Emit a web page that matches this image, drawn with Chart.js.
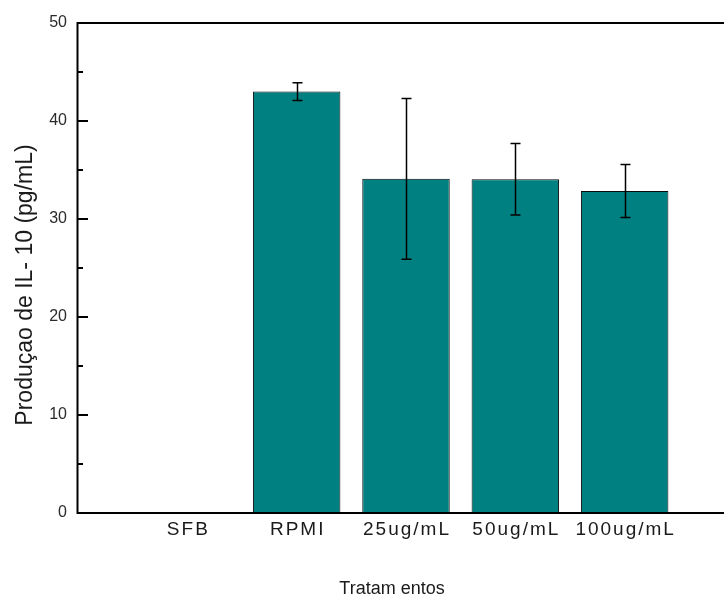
<!DOCTYPE html>
<html>
<head>
<meta charset="utf-8">
<title>Produção de IL-10</title>
<script src="https://cdn.jsdelivr.net/npm/chart.js@4/dist/chart.umd.min.js"></script>
<style>
  html, body { margin: 0; padding: 0; overflow: hidden; background: #ffffff; }
  #wrap { width: 745px; height: 597px; position: relative; }
</style>
</head>
<body>
<div id="wrap"><canvas id="chart"></canvas></div>
<script>
// Treatments along the x axis (blank slots keep the origin and the far edge empty)
const categories = ['', 'SFB', 'RPMI', '25ug/mL', '50ug/mL', '100ug/mL', ''];
// Mean IL-10 production (pg/mL) and its error (±)
const meanValues = [null, 0, 43.0, 34.1, 34.05, 32.85, null];
const errorValues = [null, 0, 0.9, 8.2, 3.65, 2.7, null];
// Y axis ticks
const yMajorTicks = [0, 10, 20, 30, 40, 50];
const yMinorTicks = [5, 15, 25, 35, 45];
// Axis titles
const yTitle = 'Produçao de IL- 10 (pg/mL)';
const xTitle = 'Tratam entos';

const FONT = '"Liberation Sans", Arial, Helvetica, sans-serif';
const INK = '#1a1a1a';

// Frame, inward ticks, category labels and axis titles
const framePlugin = {
  id: 'frame',
  afterDraw(chart) {
    const { ctx, chartArea: { left, top, bottom }, scales: { x, y } } = chart;
    ctx.save();
    ctx.strokeStyle = '#000';
    ctx.lineWidth = 2;
    ctx.lineCap = 'butt';
    // left axis, bottom axis, top border
    ctx.beginPath();
    ctx.moveTo(left - 0.5, top - 1);
    ctx.lineTo(left - 0.5, bottom + 1);
    ctx.moveTo(left - 1.5, bottom);
    ctx.lineTo(chart.width, bottom);
    ctx.moveTo(left - 1.5, top);
    ctx.lineTo(chart.width, top);
    ctx.stroke();

    // inward tick marks on the y axis
    ctx.beginPath();
    yMajorTicks.forEach(v => {
      const py = Math.round(y.getPixelForValue(v));
      ctx.moveTo(left, py);
      ctx.lineTo(left + 10, py);
    });
    yMinorTicks.forEach(v => {
      const py = Math.round(y.getPixelForValue(v));
      ctx.moveTo(left, py);
      ctx.lineTo(left + 5, py);
    });
    ctx.stroke();

    // category labels
    ctx.fillStyle = INK;
    ctx.font = '19px ' + FONT;
    ctx.textAlign = 'center';
    ctx.textBaseline = 'alphabetic';
    ctx.letterSpacing = '2px';
    categories.forEach((label, i) => {
      if (!label) return;
      ctx.fillText(label, x.getPixelForValue(i) + 1, bottom + 22);
    });

    // x axis title
    ctx.letterSpacing = '0px';
    ctx.font = '18px ' + FONT;
    ctx.fillText(xTitle, 392, 594);

    // y axis title
    ctx.font = '23px ' + FONT;
    ctx.translate(32, 285);
    ctx.rotate(-Math.PI / 2);
    ctx.textAlign = 'center';
    ctx.fillText(yTitle, 0, 0);
    ctx.restore();
  }
};

// Error bars drawn from the mean and error arrays
const errorBarPlugin = {
  id: 'errorBars',
  afterDatasetsDraw(chart) {
    const { ctx, scales: { y } } = chart;
    const meta = chart.getDatasetMeta(0);
    ctx.save();
    ctx.strokeStyle = '#000';
    ctx.lineWidth = 1.5;
    meta.data.forEach((bar, i) => {
      const v = meanValues[i], e = errorValues[i];
      if (v == null || !e) return;
      const cx = Math.round(bar.x) + 0.5;
      const yHi = y.getPixelForValue(v + e);
      const yLo = y.getPixelForValue(v - e);
      ctx.beginPath();
      ctx.moveTo(cx, yHi);
      ctx.lineTo(cx, yLo);
      ctx.moveTo(cx - 5, yHi);
      ctx.lineTo(cx + 5, yHi);
      ctx.moveTo(cx - 5, yLo);
      ctx.lineTo(cx + 5, yLo);
      ctx.stroke();
    });
    ctx.restore();
  }
};

new Chart(document.getElementById('chart'), {
  type: 'bar',
  data: {
    labels: categories,
    datasets: [{
      data: meanValues,
      backgroundColor: '#008080',
      borderColor: '#0a0a0a',
      borderWidth: 1,
      barPercentage: 0.8,
      categoryPercentage: 1.0
    }]
  },
  options: {
    responsive: true,
    maintainAspectRatio: false,
    animation: false,
    layout: { padding: { left: 0, top: 23, right: 11, bottom: 0 } },
    plugins: {
      legend: { display: false },
      tooltip: { enabled: false }
    },
    scales: {
      x: {
        type: 'category',
        offset: false,
        grid: { display: false, drawTicks: false },
        border: { display: false },
        ticks: { display: false },
        afterFit(scale) { scale.height = 84; }
      },
      y: {
        min: 0,
        max: 50,
        grid: { display: false, drawTicks: false },
        border: { display: false },
        ticks: {
          stepSize: 10,
          padding: 11,
          color: '#2a2a2a',
          font: { family: FONT, size: 16 }
        },
        afterFit(scale) { scale.width = 78; }
      }
    }
  },
  plugins: [errorBarPlugin, framePlugin]
});
</script>
</body>
</html>
